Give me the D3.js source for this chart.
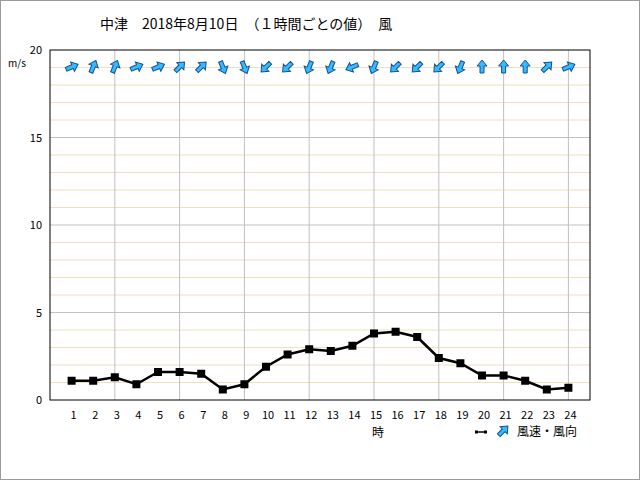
<!DOCTYPE html><html><head><meta charset="utf-8"><script src="https://cdn.jsdelivr.net/npm/d3@7"></script>
<style>body{margin:0;background:#fff}</style></head><body><svg id="c" width="640" height="480"></svg><script>
const hours=[1,2,3,4,5,6,7,8,9,10,11,12,13,14,15,16,17,18,19,20,21,22,23,24];
const speed=[1.1,1.1,1.3,0.9,1.6,1.6,1.5,0.6,0.9,1.9,2.6,2.9,2.8,3.1,3.8,3.9,3.6,2.4,2.1,1.4,1.4,1.1,0.6,0.7];
const dir=[67.5,22.5,22.5,67.5,67.5,45,45,157.5,157.5,225,225,202.5,202.5,247.5,202.5,225,225,225,202.5,0,0,0,45,67.5];
const yTicks=[0,5,10,15,20];
const svg=d3.select("#c"),F="'Noto Sans CJK JP',sans-serif";
svg.append("rect").attr("x",0.5).attr("y",0.5).attr("width",639).attr("height",479).attr("fill","#fff").attr("stroke","#999");
const L=50,R=590,T=50,B=400;
const x=d3.scaleLinear().domain([0,25]).range([L,R]);
const y=d3.scaleLinear().domain([0,20]).range([B,T]);
const g=svg.append("g");
d3.range(1,20).filter(v=>v%5).forEach(v=>g.append("line").attr("x1",L).attr("x2",R).attr("y1",y(v)).attr("y2",y(v)).attr("stroke","#eedfc0"));
[5,10,15].forEach(v=>g.append("line").attr("x1",L).attr("x2",R).attr("y1",y(v)).attr("y2",y(v)).attr("stroke","#c0c0c0"));
[3,6,9,12,15,18,21,24].forEach(v=>g.append("line").attr("x1",x(v)).attr("x2",x(v)).attr("y1",T).attr("y2",B).attr("stroke","#c0c0c0"));
g.append("rect").attr("x",L).attr("y",T).attr("width",R-L).attr("height",B-T).attr("fill","none").attr("stroke","#000");
yTicks.forEach(v=>svg.append("text").attr("x",L-8).attr("y",y(v)+4).attr("text-anchor","end").attr("font-family",F).attr("font-size",11).text(v));
hours.forEach(h=>svg.append("text").attr("x",x(h)+2).attr("y",419).attr("text-anchor","middle").attr("font-family",F).attr("font-size",11).text(h));
svg.append("text").attr("x",8).attr("y",67).attr("font-family",F).attr("font-size",10).text("m/s");
svg.append("text").attr("x",x(15)+4).attr("y",437).attr("text-anchor","middle").attr("font-family",F).attr("font-size",12).text("時");
svg.append("text").attr("x",100).attr("y",29).attr("font-family",F).attr("font-size",14).attr("xml:space","preserve").text("中津　2018年8月10日　（１時間ごとの値）　風");
svg.append("path").datum(hours).attr("fill","none").attr("stroke","#000").attr("stroke-width",2.5)
 .attr("d",d3.line().x((d,i)=>x(d)).y((d,i)=>y(speed[i])));
svg.selectAll(".m").data(hours).join("rect").attr("x",d=>x(d)-4).attr("y",(d,i)=>y(speed[i])-4).attr("width",8).attr("height",8).attr("fill","#000");
const arrow="M-2,6 L-2,-1 L-5,-1 L0,-7 L5,-1 L2,-1 L2,6 Z";
svg.selectAll(".a").data(hours).join("path").attr("d",arrow).attr("fill","#33bbff").attr("stroke","#1a4f8f").attr("stroke-width",1)
 .attr("transform",(d,i)=>`translate(${x(d)},67) rotate(${dir[i]})`);
svg.append("line").attr("x1",476).attr("x2",486).attr("y1",432).attr("y2",432).attr("stroke","#000").attr("stroke-width",1.5);
svg.append("rect").attr("x",475).attr("y",430.5).attr("width",3).attr("height",3);
svg.append("rect").attr("x",484).attr("y",430.5).attr("width",3).attr("height",3);
svg.append("path").attr("d",arrow).attr("fill","#33bbff").attr("stroke","#1a4f8f").attr("transform","translate(503,431) rotate(45)");
svg.append("text").attr("x",517).attr("y",436).attr("font-family",F).attr("font-size",12).text("風速・風向");
</script></body></html>
